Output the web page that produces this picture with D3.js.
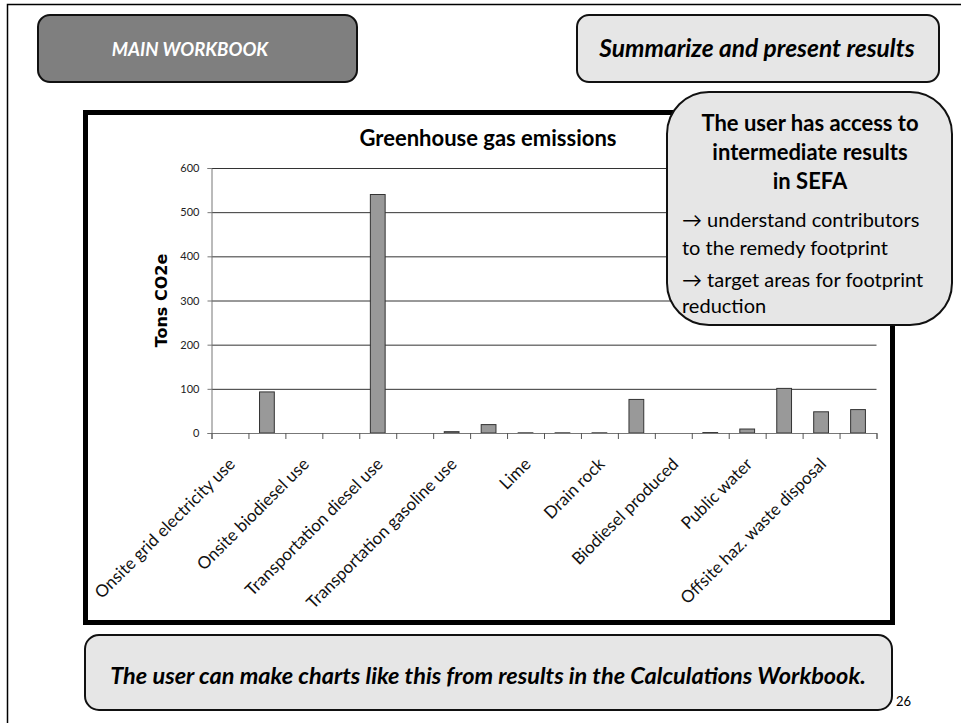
<!DOCTYPE html>
<html>
<head>
<meta charset="utf-8">
<script src="https://cdn.jsdelivr.net/npm/d3@7/dist/d3.min.js"></script>
<style>
    html, body { margin: 0; padding: 0; background: #fff; }
    svg { display: block; font-family: Lato, "Open Sans", sans-serif; }
</style>
</head>
<body>
<div id="slide"></div>
<script>
'use strict';

/**
 * Slide "Summarize and present results" with the greenhouse gas bar chart.
 * Only every second category carries a visible label, like the Excel original.
 */

var categories = [
    'Onsite grid electricity use', 'Onsite renewable electricity use',
    'Onsite biodiesel use', 'Onsite diesel use',
    'Transportation diesel use', 'Transportation biodiesel use',
    'Transportation gasoline use', 'Cement',
    'Lime', 'Sand',
    'Drain rock', 'Asphalt',
    'Biodiesel produced', 'HDPE',
    'Public water', 'Onsite haz. waste disposal',
    'Offsite haz. waste disposal', 'Offsite non-haz. waste disposal'
];
var emissions = [0, 93, 0, 0, 540, 0, 3, 19, 0.4, 0.4, 0.4, 76, 0, 1, 9, 101, 48, 53];
var yTicks = [0, 100, 200, 300, 400, 500, 600];

var calloutTitle = ['The user has access to', 'intermediate results', 'in SEFA'];
var calloutBody = ['\u2192 understand contributors', 'to the remedy footprint',
                   '\u2192 target areas for footprint', 'reduction'];

var width = 961,
    height = 723,
    plot = {left: 211.5, right: 876.5, top: 168, bottom: 433};

var svg = d3.select('#slide').append('svg')
            .attr('width', width)
            .attr('height', height);

// slide frame (only top and left edges are visible)
svg.append('rect')
   .attr('x', 7.5).attr('y', 4.5)
   .attr('width', 980).attr('height', 740)
   .attr('fill', 'none').attr('stroke', '#000').attr('stroke-width', 1.5);

function roundBox(x, y, w, h, r, fill) {
    return svg.append('rect')
              .attr('x', x).attr('y', y)
              .attr('width', w).attr('height', h)
              .attr('rx', r).attr('ry', r)
              .attr('fill', fill)
              .attr('stroke', '#111')
              .attr('stroke-width', 2);
}

function label(x, y, text, size, opts) {
    opts = opts || {};
    return svg.append('text')
              .attr('x', x).attr('y', y)
              .attr('text-anchor', opts.anchor || 'middle')
              .attr('font-size', size)
              .attr('font-weight', opts.weight || 'bold')
              .attr('font-style', opts.style || 'normal')
              .attr('fill', opts.fill || '#000')
              .text(text);
}

// header boxes
roundBox(38, 15, 319, 67, 12, '#7f7f7f');
label(190, 56, 'MAIN WORKBOOK', 18.5, {style: 'italic', fill: '#fff'});

roundBox(577, 15, 362, 67, 12, '#e6e6e6');
label(757, 57, 'Summarize and present results', 24.5, {style: 'italic'});

// chart frame
svg.append('rect')
   .attr('x', 85.5).attr('y', 112.5)
   .attr('width', 807).attr('height', 510)
   .attr('fill', '#fff').attr('stroke', '#000').attr('stroke-width', 5);

var x = d3.scaleBand()
          .domain(categories)
          .range([plot.left, plot.right])
          .paddingInner(0.6)
          .paddingOuter(0.3);

var xEdge = d3.scaleLinear()
              .domain([0, categories.length])
              .range([plot.left, plot.right]);

var y = d3.scaleLinear()
          .domain([0, 600])
          .range([plot.bottom, plot.top]);

var chart = svg.append('g');

// gridlines
chart.append('g')
     .attr('transform', 'translate(' + plot.left + ',0)')
     .call(d3.axisLeft(y).tickValues(yTicks).tickSize(-(plot.right - plot.left)).tickFormat(''))
     .call(function (g) {
         g.select('.domain').remove();
         g.selectAll('line').attr('stroke', '#333').attr('stroke-width', 1);
     });

// y axis
chart.append('g')
     .attr('transform', 'translate(' + plot.left + ',0)')
     .call(d3.axisLeft(y).tickValues(yTicks).tickSize(4).tickPadding(8))
     .call(function (g) {
         g.select('.domain').attr('stroke', '#777');
         g.selectAll('line').attr('stroke', '#777');
         g.selectAll('text').attr('font-size', 11).attr('fill', '#222')
          .attr('font-family', 'Lato, sans-serif');
     });

// bars
chart.selectAll('rect.bar')
     .data(emissions)
     .enter()
     .append('rect')
     .attr('class', 'bar')
     .attr('x', function (d, i) { return x(categories[i]); })
     .attr('y', function (d) { return y(d); })
     .attr('width', x.bandwidth())
     .attr('height', function (d) { return y(0) - y(d); })
     .attr('fill', '#999')
     .attr('stroke', function (d) { return d > 0 ? '#333' : 'none'; })
     .attr('stroke-width', 1);

// x axis with ticks between categories
chart.append('g')
     .attr('transform', 'translate(0,' + plot.bottom + ')')
     .call(d3.axisBottom(xEdge).ticks(categories.length).tickSize(6).tickFormat(''))
     .call(function (g) {
         g.select('.domain').attr('stroke', '#777');
         g.selectAll('line').attr('stroke', '#555');
     });

chart.selectAll('text.cat')
     .data(categories.filter(function (d, i) { return i % 2 === 0; }))
     .enter()
     .append('text')
     .attr('class', 'cat')
     .attr('text-anchor', 'end')
     .attr('font-size', 17)
     .attr('fill', '#111')
     .attr('transform', function (d) {
         return 'translate(' + (x(d) + x.bandwidth() / 2 + 2) + ',' + (plot.bottom + 28) + ') rotate(-45)';
     })
     .attr('dy', '0.35em')
     .text(function (d) { return d; });

// titles
label(488, 146, 'Greenhouse gas emissions', 22);

svg.append('text')
   .attr('transform', 'translate(167,' + ((plot.top + plot.bottom) / 2) + ') rotate(-90)')
   .attr('text-anchor', 'middle')
   .attr('font-size', 16)
   .attr('font-weight', 'bold')
   .attr('font-family', '"DejaVu Sans", sans-serif')
   .text('Tons CO2e');

// callout
roundBox(667, 92, 285, 233, 42, '#e6e6e6');
calloutTitle.forEach(function (t, i) {
    label(810, 131 + i * 29, t, 22);
});
[227, 255, 287, 313].forEach(function (yy, i) {
    label(682, yy, calloutBody[i], 20, {anchor: 'start', weight: 'normal'});
});

// footer
roundBox(85, 635, 807, 75, 14, '#e6e6e6');
label(488, 684, 'The user can make charts like this from results in the Calculations Workbook.', 23.5, {style: 'italic'});
label(896, 706, '26', 13, {anchor: 'start', weight: 'normal'});
</script>
</body>
</html>
